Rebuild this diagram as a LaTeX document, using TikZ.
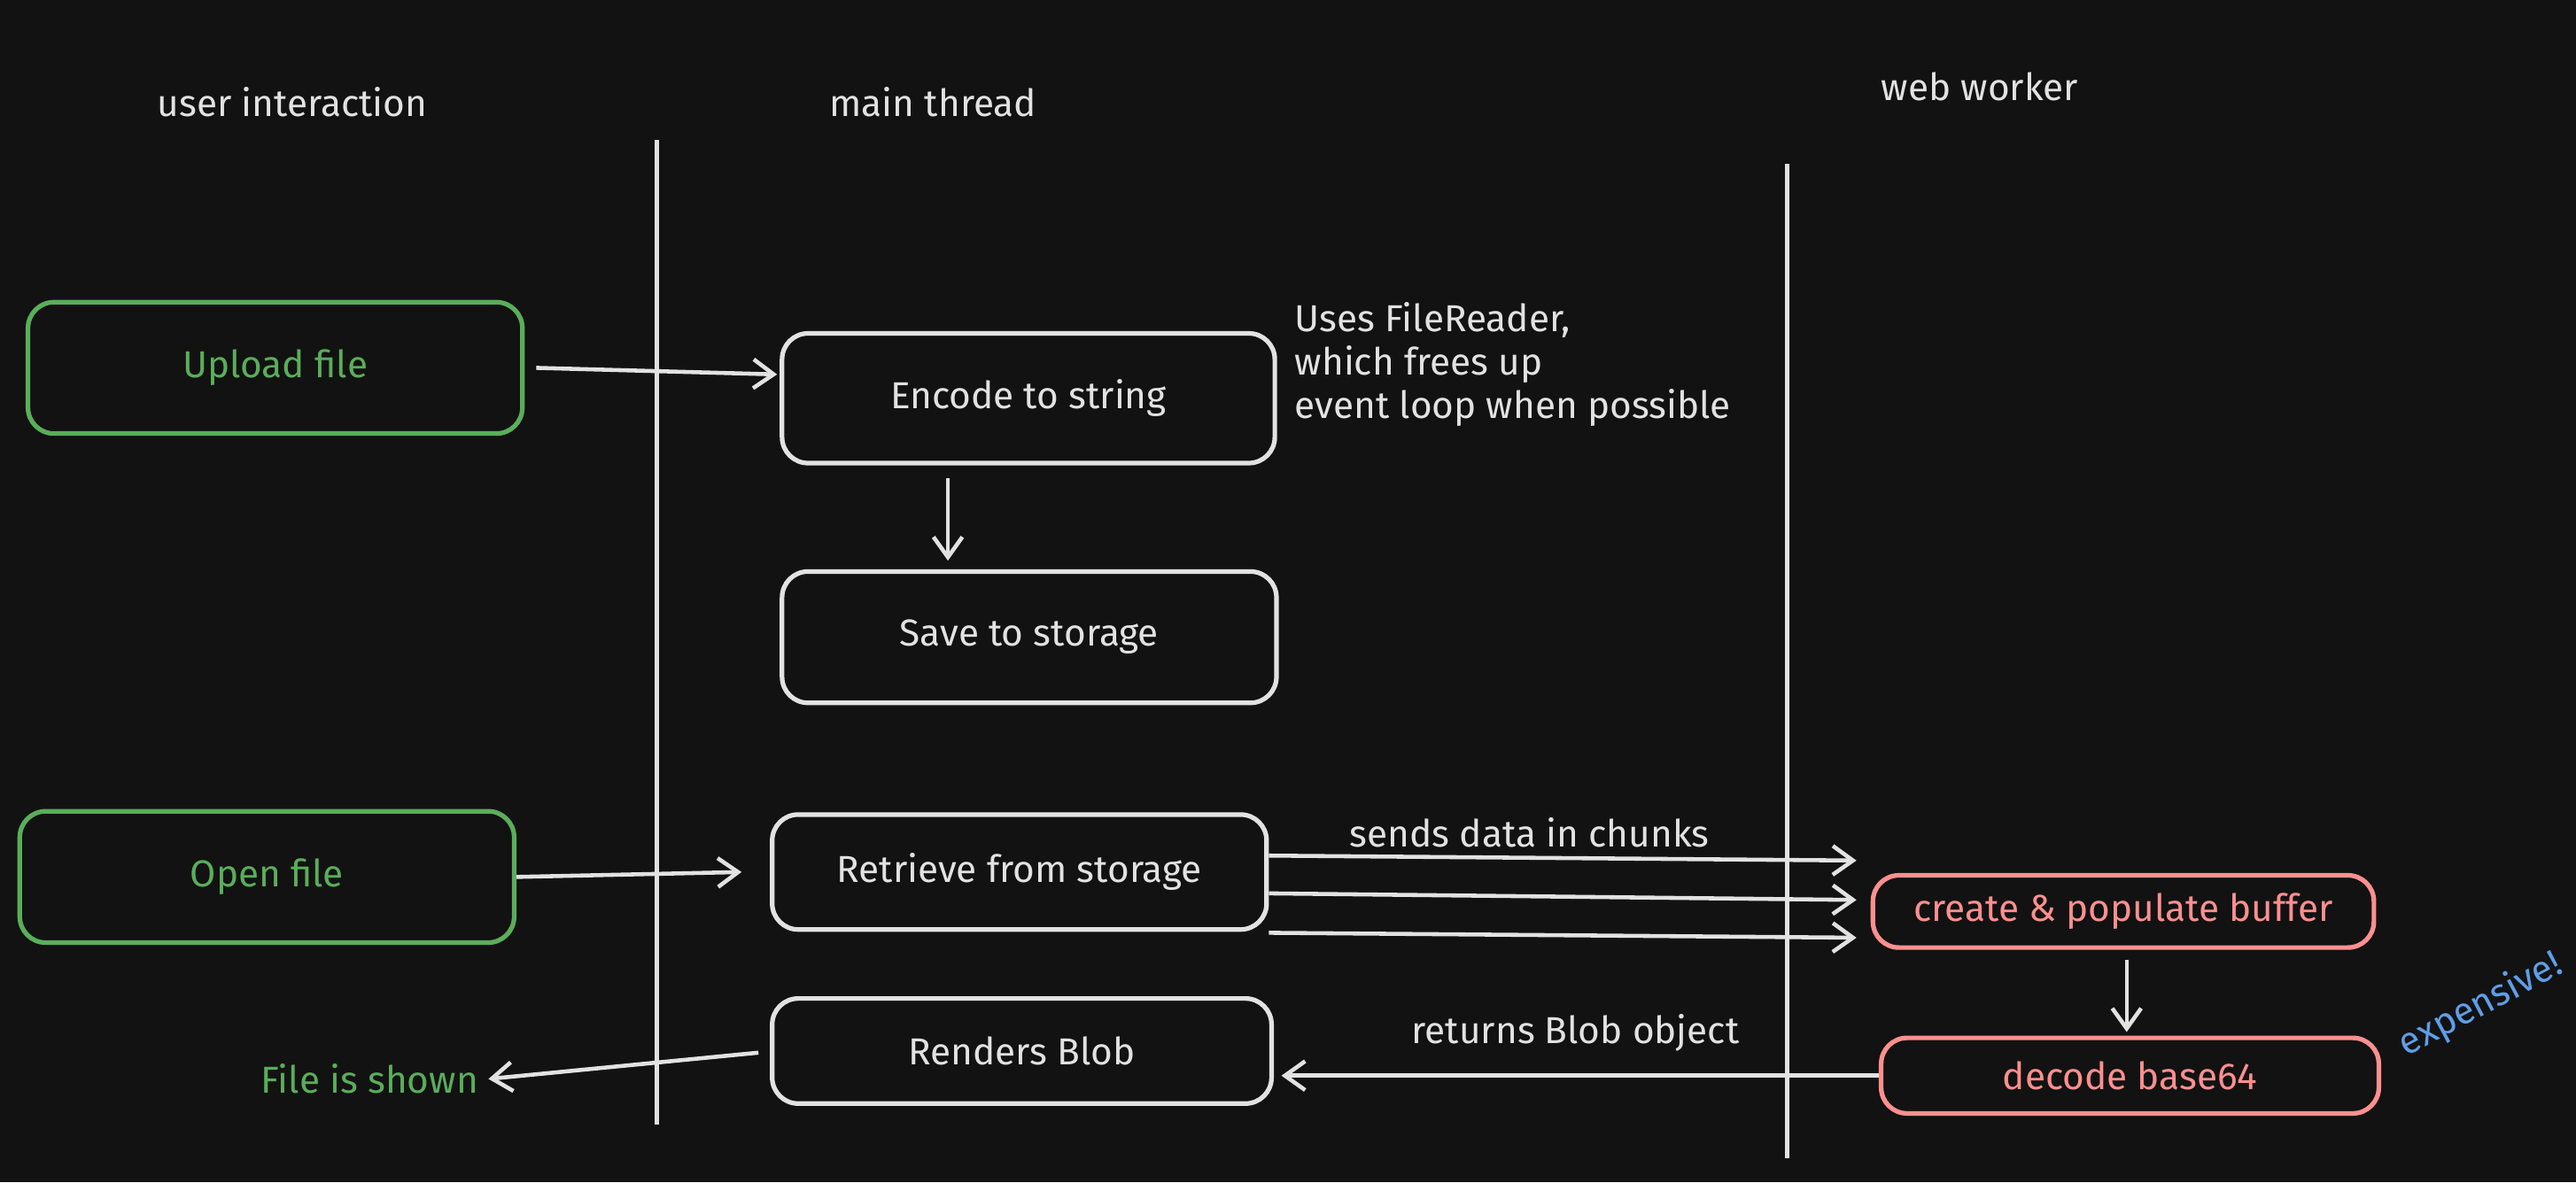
\documentclass[tikz,border=0pt]{standalone}
\usepackage{fontspec}
\setmainfont{Fira Sans}
\usetikzlibrary{arrows.meta}
\definecolor{bg}{HTML}{121212}
\definecolor{fg}{HTML}{E2E2E2}
\definecolor{gr}{HTML}{5AAE5A}
\definecolor{rd}{HTML}{FF8F8F}
\definecolor{bl}{HTML}{5E9EE8}
\begin{document}
\begin{tikzpicture}[x=0.02cm,y=-0.02cm,
  box/.style={draw=fg,line width=1.6pt,rounded corners=9pt,text=fg,font=\fontsize{13}{15}\selectfont},
  gbox/.style={box,draw=gr,text=gr},
  rbox/.style={box,draw=rd,text=rd},
  lab/.style={text=fg,font=\fontsize{13}{15}\selectfont},
  arr/.style={draw=fg,line width=1.4pt,-{Straight Barb[length=7pt,width=10pt]}}]
\fill[bg] (0,0) rectangle (1568,720);
\useasboundingbox (0,0) rectangle (1568,720);
\node[lab] (h1) at (178,62) {user interaction};
\node[lab] (h2) at (568,62) {main thread};
\node[lab] (h3) at (1205,53) {web worker};
\draw[fg,line width=1.6pt] (400,85) -- (400,685);
\draw[fg,line width=1.6pt] (1088,100) -- (1088,705);
\node[gbox,minimum width=6.02cm,minimum height=1.6cm] (up) at (167.5,224) {Upload file};
\node[box,minimum width=6cm,minimum height=1.58cm] (enc) at (626,242.5) {Encode to string};
\node[lab,anchor=north west,align=left] (note) at (782,178) {Uses FileReader,\\which frees up\\event loop when possible};
\node[box,minimum width=6.02cm,minimum height=1.6cm] (save) at (626.5,388) {Save to storage};
\node[gbox,minimum width=6.02cm,minimum height=1.6cm] (open) at (162.5,534) {Open file};
\node[box,minimum width=6.02cm,minimum height=1.4cm] (ret) at (620.5,531) {Retrieve from storage};
\node[rbox,minimum width=6.1cm,minimum height=0.88cm] (buf) at (1292.5,555) {create \& populate buffer};
\node[rbox,minimum width=6.06cm,minimum height=0.92cm] (dec) at (1296.5,655) {decode base64};
\node[box,minimum width=6.08cm,minimum height=1.28cm] (ren) at (622,640) {Renders Blob};
\node[text=gr,font=\fontsize{13}{15}\selectfont] (shown) at (225,657) {File is shown};
\node[text=bl,rotate=28,font=\fontsize{13}{15}\selectfont] (exp) at (1510,612) {expensive!};
\coordinate (e1) at (473,228);
\draw[arr] (up.east) ++(7,0) -- (e1);
\draw[arr] (enc.south) ++(-49,8) -- ++(0,50);
\draw[arr] (open.east) -- ++(137,-3);
\coordinate (t1) at (1130,524);
\coordinate (t2) at (1130,548);
\coordinate (t3) at (1130,571);
\draw[arr] (ret.east) ++(0,-10) -- (t1);
\draw[arr] (ret.east) ++(0,13) -- (t2);
\draw[arr] (ret.east) ++(0,37) -- (t3);
\node[lab] (l1) at (931,507) {sends data in chunks};
\draw[arr] (buf.south) ++(2,6) -- ++(0,44);
\coordinate (r1) at (780,655);
\draw[arr] (dec.west) -- (r1);
\node[lab] (l2) at (959,629) {returns Blob object};
\draw[arr] (ren.west) ++(-7,1) -- (shown.east);
\end{tikzpicture}
\end{document}
